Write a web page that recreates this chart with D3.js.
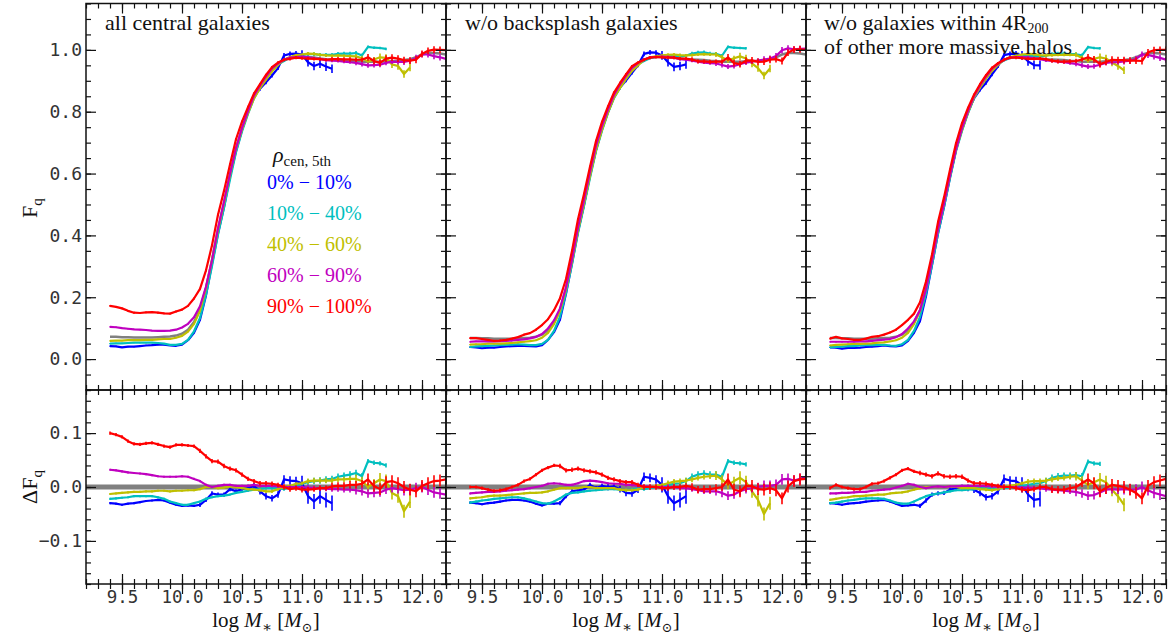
<!DOCTYPE html>
<html>
<head>
<meta charset="utf-8">
<script src="https://cdn.jsdelivr.net/npm/d3@7"></script>
<style>
  body { margin: 0; background: #fff; }
  svg { display: block; }
</style>
</head>
<body>
<div id="chart"></div>
<script>
// stellar mass bins (log M*)
const logMass = [9.40, 9.45, 9.50, 9.55, 9.60, 9.65, 9.70, 9.75, 9.80, 9.85,
  9.90, 9.95, 10.00, 10.05, 10.10, 10.15, 10.20, 10.25, 10.30, 10.35,
  10.40, 10.45, 10.50, 10.55, 10.60, 10.65, 10.70, 10.75, 10.80, 10.85,
  10.90, 10.95, 11.00, 11.05, 11.10, 11.15, 11.20, 11.25, 11.30, 11.35,
  11.40, 11.45, 11.50, 11.55, 11.60, 11.65, 11.70, 11.75, 11.80, 11.85,
  11.90, 11.95, 12.00, 12.05, 12.10, 12.15, 12.20];

// quenched fraction of the whole sample, per panel (x 1000)
const fAllLeft = [72, 72, 71, 71, 70, 70, 70, 70, 71, 72, 73, 76, 82, 95, 120, 160, 230, 320, 420, 505,
  595, 680, 745, 800, 848, 882, 912, 938, 955, 968, 975, 977, 978, 977, 975, 972, 970, 969, 968, 967,
  965, 964, 962, 962, 962, 962, 963, 964, 965, 967, 970, 976, 985, 990, 990, 988, 985];
const fAllMid = [68, 68, 67, 67, 66, 66, 66, 66, 67, 68, 69, 72, 79, 93, 118, 158, 228, 318, 418, 503,
  593, 678, 744, 800, 848, 882, 912, 938, 955, 968, 975, 977, 978, 977, 975, 972, 970, 969, 968, 967,
  965, 964, 962, 962, 962, 962, 963, 964, 965, 967, 970, 976, 985, 990, 990, 988, 985];
const fAllRight = [68, 68, 67, 67, 66, 66, 66, 66, 67, 68, 69, 72, 79, 93, 118, 158, 228, 318, 418, 503,
  593, 678, 744, 800, 848, 882, 912, 938, 955, 968, 975, 977, 978, 977, 975, 972, 970, 969, 968, 967,
  965, 964, 962, 962, 962, 962, 963, 964, 965, 967, 970, 976, 985, 990, 990, 988, 985];

// delta F_q relative to the whole sample (x 1000)
const dfLeftBlue = [-30, -31, -33, -31, -30, -28, -26, -25, -24, -25, -29, -33, -35, -34, -35, -33, -24, -12, -14, -14,
  -4, -8, -4, -2, 2, -8, -17, -21, -14, 14, 12, 11, 7, -17, -27, -17, -24, -30];
const dfLeftCyan = [-22, -21, -20, -19, -17, -17, -17, -17, -19, -22, -27, -30, -33, -33, -30, -27, -22, -19, -17, -16,
  -14, -11, -9, -7, -5, -4, -2, -2, -2, -4, 0, 2, 6, 9, 11, 12, 14, 15, 19, 21, 23, 26, 20, 48, 45, 44, 40];
const dfLeftYellow = [-13, -12, -11, -10, -9, -9, -8, -8, -7, -7, -8, -7, -7, -6, -6, -4, 0, 0, -2, -1,
  1, 0, -2, -4, -5, -6, -8, -8, -4, 0, 2, 6, 7, 11, 12, 12, 12, 12, 14, 14, 15, 15, 11, 0, 7, 14, 11, -11, -17, -45, -27];
const dfLeftMagenta = [32, 31, 29, 27, 26, 25, 24, 22, 20, 19, 19, 19, 20, 19, 15, 11, 4, 0, 2, 4,
  4, 2, 2, 2, 4, 2, 2, 2, 1, 0, 0, 0, 0, -1, -2, -2, -3, -4, -4, -5, -5, -6, -8, -12, -11, -10, -5, -2, -4, -6,
  -5, -2, 0, -5, -10, -12, -14];
const dfLeftRed = [100, 97, 93, 85, 80, 79, 81, 82, 79, 76, 74, 78, 78, 77, 76, 67, 57, 48, 47, 39,
  34, 31, 23, 15, 11, 7, 7, 6, 4, 0, -4, -2, -5, -5, -4, -2, -2, 1, 2, 2, 4, 4, 6, 14, 2, -4, 9, 11, 7, 0,
  -5, -8, 2, 7, 11, 12, 14];

const dfMidBlue = [-29, -30, -32, -30, -29, -27, -25, -24, -24, -25, -27, -31, -34, -31, -31, -30, -17, -8, -6, -5,
  4, -2, 2, 0, 1, -4, -11, -12, -5, 19, 17, 14, 4, -17, -30, -24, -17];
const dfMidCyan = [-29, -27, -25, -24, -22, -21, -20, -19, -19, -21, -24, -27, -30, -31, -27, -21, -14, -11, -10, -8,
  -7, -6, -5, -4, -4, -5, -6, -5, -2, -4, -2, 0, 2, 4, 6, 7, 11, 19, 23, 25, 23, 23, 19, 48, 45, 44, 42];
const dfMidYellow = [-21, -20, -19, -17, -16, -16, -15, -14, -13, -12, -11, -11, -10, -8, -5, -2, -2, -2, -2, 0,
  0, -2, -2, -2, -2, -5, -6, -6, -5, 0, 1, 2, 4, 7, 10, 11, 12, 14, 17, 19, 20, 21, 14, 4, 11, 17, 9, -8, -24, -50, -30];
const dfMidMagenta = [-12, -11, -10, -9, -9, -8, -7, -6, -5, -4, -2, 0, 2, 6, 7, 6, 4, 4, 7, 11,
  12, 11, 9, 7, 6, 6, 4, 4, 2, 1, 1, 0, 0, 0, 0, -2, -2, -4, -6, -8, -8, -8, -11, -16, -14, -8, -4, -2, 0, 2,
  2, 4, 14, 15, 12, 15, 19];
const dfMidRed = [0, 0, -2, -5, -7, -6, -4, 0, 4, 11, 15, 23, 31, 36, 40, 39, 31, 32, 34, 31,
  29, 27, 23, 17, 14, 11, 9, 9, 4, 0, 0, 0, -2, -2, 0, 0, 2, 0, -5, -4, -4, -2, 0, 14, -5, -8, 2, 2, -4, -5,
  -2, -6, -21, 1, 11, 14, 15];

const dfRightBlue = [-30, -31, -33, -31, -30, -29, -27, -26, -25, -24, -27, -31, -35, -34, -33, -35, -25, -14, -12, -11,
  -5, -2, 0, -2, -5, -11, -19, -17, -8, 15, 12, 11, 4, -14, -24, -22];
const dfRightCyan = [-30, -29, -27, -25, -24, -22, -21, -21, -21, -22, -25, -29, -31, -31, -27, -22, -17, -14, -12, -10,
  -8, -6, -6, -5, -4, -2, -4, -2, -2, -2, -1, 0, 2, 4, 6, 7, 11, 17, 20, 21, 21, 22, 20, 47, 44, 43];
const dfRightYellow = [-24, -22, -20, -19, -17, -17, -16, -15, -14, -14, -12, -11, -10, -8, -5, -2, 0, 0, 0, 0,
  1, 0, -2, -2, -2, -4, -5, -6, -4, 0, 2, 4, 7, 10, 11, 11, 12, 14, 16, 17, 19, 20, 12, 4, 9, 14, 9, -5, -17, -33];
const dfRightMagenta = [-12, -12, -11, -11, -10, -9, -9, -7, -6, -5, -4, -1, 2, 6, 4, 0, -2, 0, 1, 0,
  1, 1, 2, 2, 2, 2, 2, 1, 0, 0, 0, 0, -1, -1, -2, -2, -4, -5, -6, -7, -8, -9, -12, -16, -15, -10, -5, -4, -5, -4,
  -5, -5, 0, -6, -11, -14, -17];
const dfRightRed = [-2, 4, 0, -2, -4, -4, 0, 6, 7, 11, 17, 23, 31, 34, 29, 26, 23, 20, 25, 20,
  19, 20, 19, 12, 7, 7, 6, 4, 2, 0, 0, -2, -5, -6, -4, 0, 0, -4, -5, -5, -2, 0, 7, 14, 7, -8, -2, 4, 2, 0,
  -5, -11, -21, 2, 9, 12, 15];

// error bar half-lengths per density bin (x 1000)
const errBlue = [2, 2, 2, 2, 2, 2, 2, 2, 2, 2, 2, 2, 2, 2, 2, 4, 4, 4, 4, 4, 4, 4, 4, 6, 6, 6, 6, 6, 6, 8, 8, 8,
  14, 14, 14, 14, 14, 14];
const errCyan = [2, 2, 2, 2, 2, 2, 2, 2, 2, 2, 2, 2, 2, 2, 2, 2, 2, 2, 2, 2, 2, 2, 2, 2, 2, 3, 3, 3, 3, 3, 3, 3, 3,
  6, 6, 6, 6, 6, 6, 6, 6, 6, 6, 4, 4, 4, 4];
const errYellow = [2, 2, 2, 2, 2, 2, 2, 2, 2, 2, 2, 2, 2, 2, 2, 2, 2, 2, 2, 2, 2, 2, 2, 2, 2, 3, 3, 3, 3, 3, 3, 3, 3,
  5, 5, 5, 5, 5, 5, 5, 5, 8, 8, 8, 8, 12, 12, 12, 12, 12, 12];
const errMagenta = [2, 2, 2, 2, 2, 2, 2, 2, 2, 2, 2, 2, 2, 2, 2, 2, 2, 2, 2, 2, 2, 2, 2, 2, 2, 3, 3, 3, 3, 3, 3, 3, 3,
  5, 5, 5, 5, 5, 5, 5, 5, 8, 8, 8, 8, 8, 8, 8, 8, 10, 10, 10, 10, 10, 10, 10, 10];
const errRed = [3, 3, 3, 3, 3, 3, 3, 3, 3, 3, 3, 3, 3, 3, 3, 4, 4, 4, 4, 4, 4, 4, 4, 4, 4, 4, 4, 4, 4,
  5, 5, 5, 5, 5, 5, 5, 5, 7, 7, 7, 7, 7, 7, 11, 11, 11, 11, 11, 11, 11, 11, 11, 11, 11, 11, 11, 11];

const binLabels = ['0% \u2212 10%', '10% \u2212 40%', '40% \u2212 60%', '60% \u2212 90%', '90% \u2212 100%'];
const binColors = ['#0000ff', '#00bfbf', '#bfbf00', '#bf00bf', '#ff0000'];
const binErrors = [errBlue, errCyan, errYellow, errMagenta, errRed];

const panelTitles = [
  ['all central galaxies'],
  ['w/o backsplash galaxies'],
  ['w/o galaxies within 4R', 'of other more massive halos']
];
const panelAll = [fAllLeft, fAllMid, fAllRight];
const panelDelta = [
  [dfLeftBlue, dfLeftCyan, dfLeftYellow, dfLeftMagenta, dfLeftRed],
  [dfMidBlue, dfMidCyan, dfMidYellow, dfMidMagenta, dfMidRed],
  [dfRightBlue, dfRightCyan, dfRightYellow, dfRightMagenta, dfRightRed]
];

const xTicks = [9.5, 10.0, 10.5, 11.0, 11.5, 12.0];
const yTopTicks = [0.0, 0.2, 0.4, 0.6, 0.8, 1.0];
const yBotTicks = [-0.1, 0.0, 0.1];

// layout
const width = 1168, height = 637;
const colLeft = [86, 446, 806], colW = 360;
const topY0 = 3.5, midY = 390, botY1 = 584;
const monoFont = '"DejaVu Sans Mono", monospace';
const serifFont = '"Liberation Serif", "DejaVu Serif", serif';

const svg = d3.select('#chart').append('svg')
  .attr('width', width).attr('height', height)
  .attr('viewBox', [0, 0, width, height]);

const yTop = d3.scaleLinear().domain([-0.1, 1.15]).range([midY, topY0]);
const yBot = d3.scaleLinear().domain([-0.18, 0.18]).range([botY1, midY]);

const defs = svg.append('defs');

function styleTicks(g) {
  g.select('.domain').remove();
  g.selectAll('.tick line').attr('stroke', '#111').attr('stroke-width', 1.2);
  g.selectAll('.tick text').attr('font-family', monoFont).attr('font-size', 18).attr('fill', '#333');
}

panelTitles.forEach((title, p) => {
  const x0 = colLeft[p];
  const x = d3.scaleLinear().domain([9.2, 12.2]).range([x0, x0 + colW]);
  const fAll = panelAll[p].map(v => v / 1000);
  const g = svg.append('g');

  defs.append('clipPath').attr('id', `clipTop${p}`)
    .append('rect').attr('x', x0).attr('y', topY0).attr('width', colW).attr('height', midY - topY0);
  defs.append('clipPath').attr('id', `clipBot${p}`)
    .append('rect').attr('x', x0).attr('y', midY).attr('width', colW).attr('height', botY1 - midY);

  const top = g.append('g').attr('clip-path', `url(#clipTop${p})`);
  const bot = g.append('g');

  // zero reference band in the lower panel
  bot.append('line')
    .attr('x1', x0).attr('x2', x0 + colW)
    .attr('y1', yBot(0)).attr('y2', yBot(0))
    .attr('stroke', '#808080').attr('stroke-width', 5);

  const botClip = bot.append('g').attr('clip-path', `url(#clipBot${p})`);

  // whole sample curve
  const allPts = logMass.map((m, i) => [m, fAll[i]]);
  top.append('path')
    .attr('d', d3.line().x(d => x(d[0])).y(d => yTop(d[1]))(allPts))
    .attr('fill', 'none').attr('stroke', '#808080').attr('stroke-width', 2.5);

  panelDelta[p].forEach((df, s) => {
    const color = binColors[s];
    const err = binErrors[s];
    const pts = df.map((v, i) => ({
      m: logMass[i],
      d: v / 1000,
      f: fAll[i] + v / 1000,
      e: err[i] / 1000
    }));

    [[top, 'f', yTop], [botClip, 'd', yBot]].forEach(([layer, key, y]) => {
      layer.append('g').selectAll('line')
        .data(pts)
        .join('line')
        .attr('x1', d => x(d.m)).attr('x2', d => x(d.m))
        .attr('y1', d => y(d[key] - d.e)).attr('y2', d => y(d[key] + d.e))
        .attr('stroke', color).attr('stroke-width', 1.6);
      layer.append('path')
        .attr('d', d3.line().x(d => x(d.m)).y(d => y(d[key]))(pts))
        .attr('fill', 'none').attr('stroke', color)
        .attr('stroke-width', 2.2).attr('stroke-linejoin', 'round');
    });
  });

  // frames
  g.append('rect').attr('x', x0).attr('y', topY0).attr('width', colW).attr('height', midY - topY0)
    .attr('fill', 'none').attr('stroke', '#111').attr('stroke-width', 1.5);
  g.append('rect').attr('x', x0).attr('y', midY).attr('width', colW).attr('height', botY1 - midY)
    .attr('fill', 'none').attr('stroke', '#111').attr('stroke-width', 1.5);

  const xMinor = d3.range(9.2, 12.21, 0.1);
  const ax = g.append('g');

  // x ticks: top of upper panel, both sides of the shared edge, bottom of lower panel
  ax.append('g').attr('transform', `translate(0,${topY0})`)
    .call(d3.axisTop(x).tickValues(xTicks).tickSize(-10).tickFormat('')).call(styleTicks);
  ax.append('g').attr('transform', `translate(0,${topY0})`)
    .call(d3.axisTop(x).tickValues(xMinor).tickSize(-5).tickFormat('')).call(styleTicks);
  ax.append('g').attr('transform', `translate(0,${midY})`)
    .call(d3.axisBottom(x).tickValues(xTicks).tickSize(10).tickFormat('')).call(styleTicks);
  ax.append('g').attr('transform', `translate(0,${midY})`)
    .call(d3.axisBottom(x).tickValues(xTicks).tickSize(-10).tickFormat('')).call(styleTicks);
  ax.append('g').attr('transform', `translate(0,${midY})`)
    .call(d3.axisBottom(x).tickValues(xMinor).tickSize(5).tickFormat('')).call(styleTicks);
  ax.append('g').attr('transform', `translate(0,${midY})`)
    .call(d3.axisBottom(x).tickValues(xMinor).tickSize(-5).tickFormat('')).call(styleTicks);
  ax.append('g').attr('transform', `translate(0,${botY1})`)
    .call(d3.axisBottom(x).tickValues(xTicks).tickSize(-10).tickFormat('')).call(styleTicks);
  ax.append('g').attr('transform', `translate(0,${botY1})`)
    .call(d3.axisBottom(x).tickValues(xMinor).tickSize(-5).tickFormat('')).call(styleTicks);
  ax.append('g').attr('transform', `translate(0,${botY1})`)
    .call(d3.axisBottom(x).tickValues(xMinor).tickSize(5).tickFormat('')).call(styleTicks);
  const xLab = ax.append('g').attr('transform', `translate(0,${botY1})`)
    .call(d3.axisBottom(x).tickValues(xTicks).tickSize(10).tickFormat(d3.format('.1f')))
    .call(styleTicks);
  xLab.selectAll('.tick text').attr('y', 19).attr('dy', 0).attr('font-size', 17.5);

  // y ticks on both sides of each panel
  const yTopMinor = d3.range(-0.1, 1.151, 0.05);
  const yBotMinor = d3.range(-0.18, 0.181, 0.02);
  const fmt = v => (v < 0 ? '\u2212' : '') + Math.abs(v).toFixed(1);
  [[x0, d3.axisLeft], [x0 + colW, d3.axisRight]].forEach(([xp, axisFn], side) => {
    const showLab = side === 0 && p === 0;
    ax.append('g').attr('transform', `translate(${xp},0)`)
      .call(axisFn(yTop).tickValues(yTopTicks).tickSize(-10).tickPadding(4).tickFormat(showLab ? fmt : ''))
      .call(styleTicks);
    ax.append('g').attr('transform', `translate(${xp},0)`)
      .call(axisFn(yTop).tickValues(yTopMinor).tickSize(-5).tickFormat('')).call(styleTicks);
    ax.append('g').attr('transform', `translate(${xp},0)`)
      .call(axisFn(yBot).tickValues(yBotTicks).tickSize(-10).tickPadding(4).tickFormat(showLab ? fmt : ''))
      .call(styleTicks);
    ax.append('g').attr('transform', `translate(${xp},0)`)
      .call(axisFn(yBot).tickValues(yBotMinor).tickSize(-5).tickFormat('')).call(styleTicks);
  });

  // panel title
  const tt = g.append('text').attr('x', x0 + (p === 2 ? 18 : 19)).attr('y', 30)
    .attr('font-family', serifFont).attr('font-size', 22).attr('fill', '#111');
  tt.append('tspan').text(title[0]);
  if (p === 2) {
    tt.append('tspan').attr('font-size', 14).attr('dy', 3).text('200');
    g.append('text').attr('x', x0 + 18).attr('y', 54)
      .attr('font-family', serifFont).attr('font-size', 22).attr('fill', '#111').text(title[1]);
  }

  // x axis label
  const xl = g.append('text').attr('x', x0 + colW / 2).attr('y', 627)
    .attr('text-anchor', 'middle').attr('font-family', serifFont).attr('font-size', 21).attr('fill', '#111');
  xl.append('tspan').text('log ');
  xl.append('tspan').attr('font-style', 'italic').text('M');
  xl.append('tspan').attr('font-size', 15).attr('dy', 5).text('\u2217');
  xl.append('tspan').attr('dy', -5).text(' [');
  xl.append('tspan').attr('font-style', 'italic').text('M');
  xl.append('tspan').attr('font-size', 13).attr('dy', 5).text('\u2299');
  xl.append('tspan').attr('dy', -5).text(']');
});

// y axis labels
const yl1 = svg.append('text').attr('transform', 'translate(37,208) rotate(-90)')
  .attr('text-anchor', 'middle').attr('font-family', serifFont).attr('font-size', 22).attr('fill', '#111');
yl1.append('tspan').text('F');
yl1.append('tspan').attr('font-size', 15).attr('dy', 5).text('q');
const yl2 = svg.append('text').attr('transform', 'translate(37,487) rotate(-90)')
  .attr('text-anchor', 'middle').attr('font-family', serifFont).attr('font-size', 22).attr('fill', '#111');
yl2.append('tspan').text('\u0394F');
yl2.append('tspan').attr('font-size', 15).attr('dy', 5).text('q');

// legend
const leg = svg.append('g').attr('font-family', serifFont);
const rho = leg.append('text').attr('x', 273).attr('y', 162).attr('font-size', 22).attr('fill', '#111');
rho.append('tspan').attr('font-style', 'italic').text('\u03c1');
rho.append('tspan').attr('font-size', 15).attr('dy', 4).text('cen, 5th');
leg.selectAll('text.bin')
  .data(binLabels)
  .join('text')
  .attr('class', 'bin')
  .attr('x', 267)
  .attr('y', (d, i) => 189 + i * 31)
  .attr('font-size', 20)
  .attr('fill', (d, i) => binColors[i])
  .text(d => d);
</script>
</body>
</html>
